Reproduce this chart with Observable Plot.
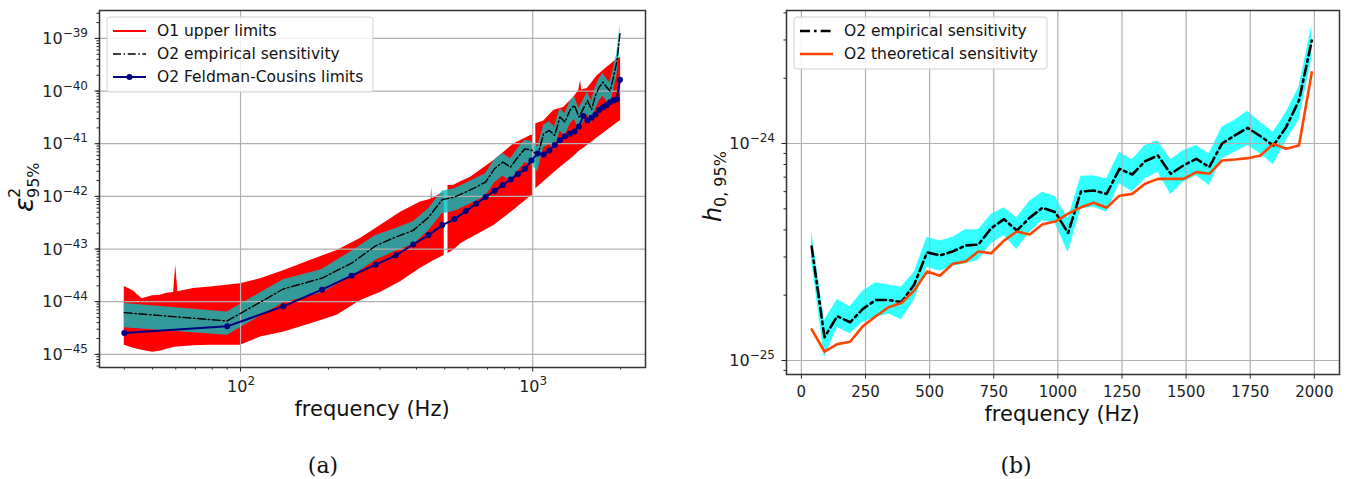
<!DOCTYPE html>
<html><head><meta charset="utf-8">
<script src="https://cdn.jsdelivr.net/npm/d3@7"></script>
<script src="https://cdn.jsdelivr.net/npm/@observablehq/plot@0.6"></script>
<style>
body{margin:0;background:#fff;}
#root{position:relative;width:1348px;height:479px;overflow:hidden;font-family:"DejaVu Sans";}
#root > svg{position:absolute;top:0;}
</style></head><body><div id="root"></div>
<script>
// ---------- shared frequency grid (Hz) ----------
const freqs = [40,90,140,190,240,290,340,390,440,490,540,590,640,690,740,790,840,890,940,990,
  1040,1090,1140,1190,1240,1290,1340,1390,1440,1490,1540,1590,1640,1690,1740,1790,1840,1890,1940,1990];

// ---------- panel (a): epsilon^2 ----------
// O1 upper limits: envelope of the dense red band (NaN = gap)
const o1Freq = [40,43,46,50,53,56,59,60,61,69,79,88,100,117,141,174,214,258,301,353,413,449,451,453,484,498,505,
  513,537,567,613,737,863,985,998,1010,1025,1091,1183,1276,1385,1437,1459,1470,1538,1666,1803,1951,2000];
const o1Hi = [1.95e-44,1.6e-44,1.14e-44,1.3e-44,1.32e-44,1.45e-44,1.5e-44,4.9e-44,1.55e-44,1.77e-44,1.9e-44,2.04e-44,2.2e-44,
  2.74e-44,3.93e-44,6.1e-44,9.4e-44,1.6e-43,2.8e-43,5.0e-43,7.8e-43,8.8e-43,1.5e-42,9.0e-43,1.12e-42,1.15e-42,NaN,
  1.6e-42,1.62e-42,1.9e-42,2.3e-42,4.8e-42,1.0e-41,1.44e-41,1.45e-41,NaN,2.4e-41,2.7e-41,4.3e-41,4.9e-41,7.7e-41,1.03e-40,
  1.6e-40,1.05e-40,1.12e-40,1.98e-40,2.85e-40,4.1e-40,4.4e-40];
const o1Lo = [1.48e-45,1.3e-45,1.19e-45,1.1e-45,1.15e-45,1.25e-45,1.35e-45,1.38e-45,1.38e-45,1.45e-45,1.48e-45,1.48e-45,1.48e-45,
  2.13e-45,2.65e-45,3.82e-45,5.5e-45,1.05e-44,1.5e-44,2.4e-44,4.3e-44,5.6e-44,5.7e-44,5.8e-44,7.0e-44,7.6e-44,NaN,
  8.2e-44,9.5e-44,1.26e-43,1.6e-43,2.81e-43,5.5e-43,1.0e-42,1.04e-42,NaN,1.4e-42,1.9e-42,2.8e-42,4.0e-42,5.8e-42,7.0e-42,
  7.5e-42,7.7e-42,9.3e-42,1.3e-41,1.8e-41,2.5e-41,2.77e-41];
// O2 empirical sensitivity (line) and its band
const epsEmp = [6.2e-45,4.3e-45,1.74e-44,2.8e-44,5.4e-44,1.15e-43,1.69e-43,2.26e-43,4.0e-43,8.65e-43,9.7e-43,1.21e-42,1.5e-42,
  1.87e-42,3.35e-42,4.48e-42,3.6e-42,5.57e-42,8.0e-42,7.6e-42,6.0e-42,1.55e-41,1.79e-41,1.44e-41,3.21e-41,2.58e-41,4.3e-41,
  5.35e-41,3.21e-41,4.63e-41,6.65e-41,4.43e-41,8.26e-41,1.19e-40,1.48e-40,1.19e-40,1.0e-40,1.84e-40,3.55e-40,1.23e-39];
const epsEmpHi = [9.2e-45,6.4e-45,2.6e-44,4.1e-44,9.1e-44,1.8e-43,2.45e-43,3.3e-43,5.8e-43,1.25e-42,1.4e-42,1.75e-42,2.2e-42,
  2.7e-42,4.9e-42,6.5e-42,5.2e-42,8.1e-42,1.16e-41,1.1e-41,8.7e-42,2.25e-41,2.6e-41,2.1e-41,4.65e-41,3.75e-41,6.2e-41,
  7.8e-41,4.65e-41,6.7e-41,9.6e-41,6.4e-41,1.2e-40,1.72e-40,2.15e-40,1.72e-40,1.45e-40,2.65e-40,5.1e-40,1.76e-39];
const epsEmpLo = [3.2e-45,2.3e-45,9.4e-45,1.46e-44,3.0e-44,6.1e-44,9.1e-44,1.22e-43,2.2e-43,4.7e-43,5.2e-43,6.5e-43,8.1e-43,
  1.0e-42,1.8e-42,2.4e-42,1.95e-42,3.0e-42,4.3e-42,4.1e-42,2.9e-42,8.4e-42,9.7e-42,7.8e-42,1.74e-41,1.4e-41,2.3e-41,
  2.9e-41,1.74e-41,2.5e-41,3.6e-41,2.4e-41,4.5e-41,6.4e-41,8.0e-41,6.4e-41,5.4e-41,1.0e-40,1.9e-40,6.6e-40];
// O2 Feldman-Cousins limits
const epsFC = [2.54e-45,3.4e-45,8.15e-45,1.69e-44,3.12e-44,5.05e-44,7.59e-44,1.22e-43,1.84e-43,2.85e-43,3.7e-43,5.26e-43,
  7.26e-43,9.7e-43,1.28e-42,1.64e-42,2.1e-42,2.65e-42,3.3e-42,4.82e-42,6.5e-42,6.27e-42,7.46e-42,9.42e-42,1.16e-41,1.38e-41,
  1.55e-41,1.71e-41,2.13e-41,3.35e-41,2.77e-41,3.12e-41,3.58e-41,4.35e-41,4.9e-41,5.4e-41,6.1e-41,6.6e-41,7.0e-41,1.64e-40];

// ---------- panel (b): h0 ----------
const h0Emp = [3.35e-25,1.28e-25,1.6e-25,1.5e-25,1.73e-25,1.9e-25,1.9e-25,1.86e-25,2.24e-25,3.15e-25,3.05e-25,3.18e-25,3.39e-25,
  3.42e-25,4.07e-25,4.48e-25,3.97e-25,4.55e-25,5.06e-25,4.82e-25,3.87e-25,6.01e-25,6.07e-25,5.86e-25,7.64e-25,7.2e-25,8.28e-25,
  8.81e-25,7.25e-25,7.93e-25,8.5e-25,7.78e-25,1.0e-24,1.09e-24,1.18e-24,1.08e-24,9.79e-25,1.19e-24,1.58e-24,2.98e-24];
const h0EmpHi = [3.93e-25,1.53e-25,1.91e-25,1.77e-25,2.09e-25,2.28e-25,2.23e-25,2.18e-25,2.55e-25,3.7e-25,3.55e-25,3.7e-25,4.0e-25,
  4.0e-25,4.71e-25,5.06e-25,4.55e-25,5.42e-25,5.97e-25,5.7e-25,4.5e-25,7.06e-25,7.1e-25,6.87e-25,9.12e-25,8.41e-25,9.79e-25,
  1.03e-24,8.41e-25,9.29e-25,9.79e-25,8.96e-25,1.19e-24,1.28e-24,1.41e-24,1.25e-24,1.13e-24,1.39e-24,1.82e-24,3.5e-24];
const h0EmpLo = [2.9e-25,1.03e-25,1.42e-25,1.33e-25,1.5e-25,1.58e-25,1.64e-25,1.54e-25,1.89e-25,2.69e-25,2.58e-25,2.71e-25,2.79e-25,
  2.89e-25,3.45e-25,3.77e-25,3.25e-25,3.9e-25,4.42e-25,4.27e-25,3.15e-25,5.0e-25,5.08e-25,4.82e-25,6.52e-25,6.0e-25,6.87e-25,
  7.38e-25,5.82e-25,6.64e-25,7.1e-25,6.4e-25,8.5e-25,9.12e-25,9.79e-25,8.96e-25,7.98e-25,1.03e-24,1.28e-24,2.45e-24];
const h0Theo = [1.39e-25,1.1e-25,1.19e-25,1.22e-25,1.44e-25,1.6e-25,1.76e-25,1.84e-25,2.1e-25,2.57e-25,2.46e-25,2.79e-25,2.86e-25,
  3.18e-25,3.12e-25,3.57e-25,3.93e-25,3.81e-25,4.25e-25,4.37e-25,4.75e-25,5.08e-25,5.33e-25,5.06e-25,5.75e-25,5.86e-25,6.52e-25,
  6.87e-25,6.87e-25,6.87e-25,7.38e-25,7.25e-25,8.35e-25,8.44e-25,8.56e-25,8.81e-25,9.96e-25,9.46e-25,9.79e-25,2.13e-24];

// ---------- ticks & labels ----------
const aXTicks = [100, 1000];
const aXTickExps = ["2", "3"];
const aYTicks = [1e-45,1e-44,1e-43,1e-42,1e-41,1e-40,1e-39];
const aYTickExps = ["−45","−44","−43","−42","−41","−40","−39"];
const bXTicks = [0,250,500,750,1000,1250,1500,1750,2000];
const bYTicks = [1e-25, 1e-24];
const bYTickExps = ["−25","−24"];

const legendA = ["O1 upper limits", "O2 empirical sensitivity", "O2 Feldman-Cousins limits"];
const legendB = ["O2 empirical sensitivity", "O2 theoretical sensitivity"];

// ---------- styling ----------
const GRID = {stroke:"#b0b0b0", strokeOpacity:1, strokeWidth:1.2};
const FRAME = {stroke:"#333", strokeWidth:1.5};
const NOLAB = () => "";

const aXDom = [32.9, 2433], aYDom = [10**-45.25, 10**-38.47];
const bXDom = [-58, 2098], bYDom = [10**-25.0645, 10**-23.387];
const aXMinor = d3.scaleLog().domain(aXDom).ticks().filter(t => !aXTicks.includes(t));
const aYMinor = d3.scaleLog().domain(aYDom).ticks();
const bYMinor = d3.scaleLog().domain(bYDom).ticks();

const plotA = Plot.plot({
  width: 660, height: 479,
  marginLeft: 99, marginRight: 15, marginTop: 10, marginBottom: 112,
  x: {type: "log", domain: aXDom},
  y: {type: "log", domain: aYDom},
  style: {fontFamily: "DejaVu Sans", fontSize: "15px", color: "#222", background: "transparent", overflow: "visible"},
  marks: [
    Plot.areaY(o1Freq, {x: o1Freq, y1: o1Lo, y2: o1Hi, fill: "#ff0000", curve: "linear"}),
    Plot.areaY(freqs, {x: freqs, y1: epsEmpLo, y2: epsEmpHi, fill: "rgb(0,191,191)", fillOpacity: 0.8}),
    Plot.gridX({ticks: aXTicks, ...GRID}),
    Plot.gridY({ticks: aYTicks, ...GRID}),
    Plot.line(freqs, {x: freqs, y: epsEmp, stroke: "black", strokeWidth: 1.4, strokeDasharray: "8,2.6,1.5,2.6"}),
    Plot.line(freqs, {x: freqs, y: epsFC, stroke: "navy", strokeWidth: 2}),
    Plot.dot(freqs, {x: freqs, y: epsFC, fill: "navy", r: 3}),
    Plot.axisX({ticks: aXMinor, tickSize: 2.5, tickFormat: NOLAB, label: null}),
    Plot.axisX({ticks: aXTicks, tickSize: 4.5, tickFormat: NOLAB, label: null}),
    Plot.axisY({ticks: aYMinor, tickSize: 2.5, tickFormat: NOLAB, label: null}),
    Plot.axisY({ticks: aYTicks, tickSize: 4.5, tickFormat: NOLAB, label: null}),
    Plot.frame(FRAME)
  ]
});
plotA.style.left = "0px";

const B_LEFT = 680;
const plotB = Plot.plot({
  width: 668, height: 479,
  marginLeft: 106, marginRight: 9, marginTop: 10, marginBottom: 105,
  x: {domain: bXDom},
  y: {type: "log", domain: bYDom},
  style: {fontFamily: "DejaVu Sans", fontSize: "15px", color: "#222", background: "transparent", overflow: "visible"},
  marks: [
    Plot.areaY(freqs, {x: freqs, y1: h0EmpLo, y2: h0EmpHi, fill: "cyan", fillOpacity: 0.8}),
    Plot.gridX({ticks: bXTicks, ...GRID}),
    Plot.gridY({ticks: bYTicks, ...GRID}),
    Plot.line(freqs, {x: freqs, y: h0Emp, stroke: "black", strokeWidth: 2.6, strokeDasharray: "10,4,2.6,4"}),
    Plot.line(freqs, {x: freqs, y: h0Theo, stroke: "orangered", strokeWidth: 2.6}),
    Plot.axisX({ticks: bXTicks, tickSize: 4.5, tickPadding: 7, fontSize: 15, tickFormat: d => String(d), label: null}),
    Plot.axisY({ticks: bYMinor, tickSize: 2.5, tickFormat: NOLAB, label: null}),
    Plot.axisY({ticks: bYTicks, tickSize: 4.5, tickFormat: NOLAB, label: null}),
    Plot.frame(FRAME)
  ]
});
plotB.style.left = B_LEFT + "px";

const root = document.getElementById("root");
root.append(plotA, plotB);

// ---------- overlay: tick labels, axis labels, legends, captions ----------
const NS = "http://www.w3.org/2000/svg";
const ov = document.createElementNS(NS, "svg");
ov.setAttribute("width", 1348); ov.setAttribute("height", 479);
ov.style.left = "0px";
ov.style.fontFamily = "DejaVu Sans";
root.append(ov);
function el(tag, attrs, parent = ov, text) {
  const e = document.createElementNS(NS, tag);
  for (const k in attrs) e.setAttribute(k, attrs[k]);
  if (text != null) e.textContent = text;
  parent.append(e);
  return e;
}
function powLabel(x, y, exp, anchor) {
  const t = el("text", {x, y, "text-anchor": anchor, "font-size": 16, fill: "#222"});
  el("tspan", {}, t, "10");
  el("tspan", {dy: -7, "font-size": 12}, t, exp);
  return t;
}
// panel (a) tick labels, positioned through Plot's own scales
const sxA = plotA.scale("x"), syA = plotA.scale("y");
aYTicks.forEach((t, i) => powLabel(88, syA.apply(t) + 6, aYTickExps[i], "end"));
aXTicks.forEach((t, i) => powLabel(sxA.apply(t) + 1, 392, aXTickExps[i], "middle"));
// panel (b) y tick labels
const syB = plotB.scale("y");
bYTicks.forEach((t, i) => powLabel(B_LEFT + 106 - 11, syB.apply(t) + 6, bYTickExps[i], "end"));

// x labels
el("text", {x: 372, y: 416, "text-anchor": "middle", "font-size": 21, fill: "#111"}, ov, "frequency (Hz)");
el("text", {x: 1062, y: 421, "text-anchor": "middle", "font-size": 21, fill: "#111"}, ov, "frequency (Hz)");
// y label (a): epsilon^2_{95%}
const gA = el("g", {transform: "translate(33,212) rotate(-90)"});
el("text", {x: 0, y: 0, "font-size": 27, "font-style": "italic", fill: "#111"}, gA, "ε");
el("text", {x: 14, y: -13, "font-size": 16, fill: "#111"}, gA, "2");
el("text", {x: 14, y: 6, "font-size": 16, fill: "#111"}, gA, "95%");
// y label (b): h_{0,95%}
const gB = el("g", {transform: "translate(721,222) rotate(-90)"});
el("text", {x: 0, y: 0, "font-size": 24, "font-style": "italic", fill: "#111"}, gB, "h");
el("text", {x: 15, y: 5, "font-size": 16, fill: "#111"}, gB, "0, 95%");
// captions
el("text", {x: 323, y: 473, "text-anchor": "middle", "font-size": 22, "font-family": "DejaVu Serif", fill: "#111"}, ov, "(a)");
el("text", {x: 1016, y: 473, "text-anchor": "middle", "font-size": 22, "font-family": "DejaVu Serif", fill: "#111"}, ov, "(b)");

// legend (a)
el("rect", {x: 107, y: 17, width: 266, height: 75, rx: 3, fill: "white", "fill-opacity": 0.85, stroke: "#d0d0d0"});
const rowsA = [31, 54, 77];
el("line", {x1: 113, x2: 146, y1: rowsA[0], y2: rowsA[0], stroke: "#ff0000", "stroke-width": 2.2});
el("line", {x1: 113, x2: 146, y1: rowsA[1], y2: rowsA[1], stroke: "black", "stroke-width": 1.4, "stroke-dasharray": "8,2.6,1.5,2.6"});
el("line", {x1: 113, x2: 146, y1: rowsA[2], y2: rowsA[2], stroke: "navy", "stroke-width": 2});
el("circle", {cx: 129.5, cy: rowsA[2], r: 3, fill: "navy"});
legendA.forEach((t, i) => el("text", {x: 157, y: rowsA[i], "dominant-baseline": "central", "font-size": 15.5, fill: "#111"}, ov, t));

// legend (b)
el("rect", {x: 794, y: 17, width: 253, height: 52, rx: 3, fill: "white", "fill-opacity": 0.85, stroke: "#d0d0d0"});
const rowsB = [31, 54];
el("line", {x1: 800, x2: 833, y1: rowsB[0], y2: rowsB[0], stroke: "black", "stroke-width": 2.6, "stroke-dasharray": "10,4,2.6,4"});
el("line", {x1: 800, x2: 833, y1: rowsB[1], y2: rowsB[1], stroke: "orangered", "stroke-width": 2.6});
legendB.forEach((t, i) => el("text", {x: 844, y: rowsB[i], "dominant-baseline": "central", "font-size": 15.5, fill: "#111"}, ov, t));
</script></body></html>
